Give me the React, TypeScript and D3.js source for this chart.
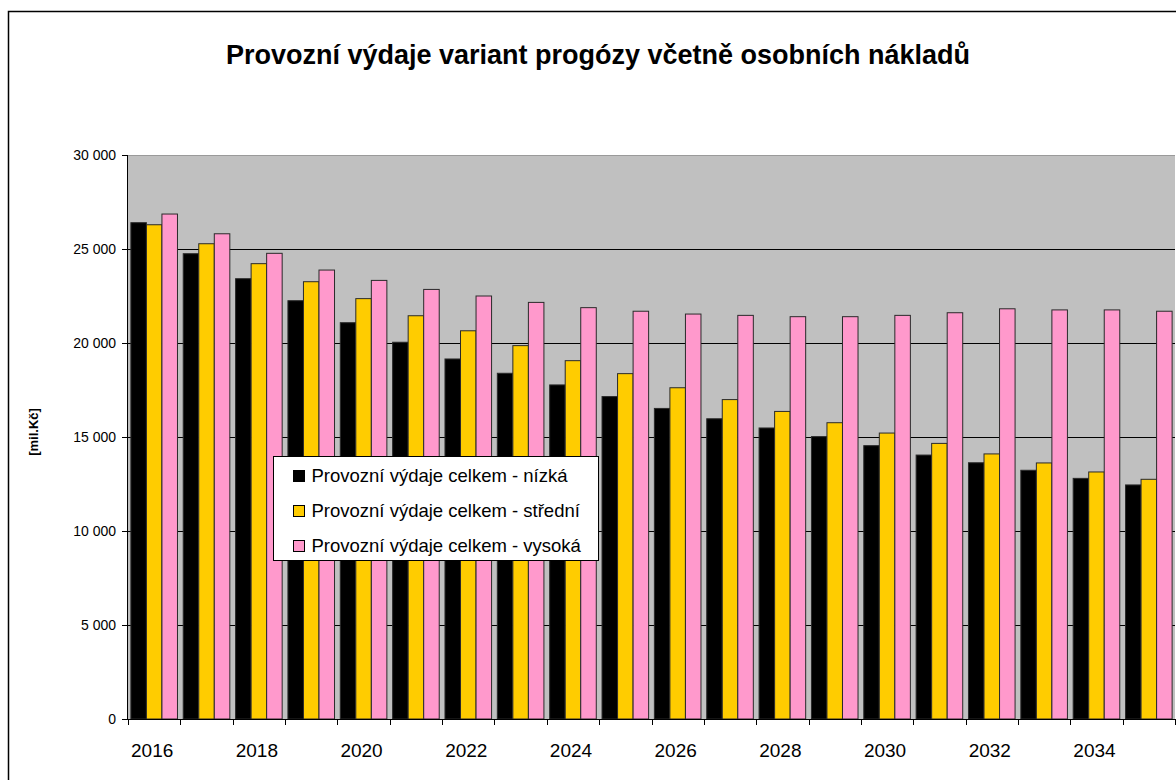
import React from 'react';
import * as d3 from 'd3';

const years = d3.range(2016, 2036).map(String);
const seriesNames = [
  'Provozní výdaje celkem - nízká',
  'Provozní výdaje celkem - střední',
  'Provozní výdaje celkem - vysoká'
];
const seriesColors = ['#000000', '#FFCC00', '#FF99CC'];

const nizka = [26400, 24750, 23420, 22250, 21080, 20040, 19150, 18390, 17770, 17150,
  16520, 15970, 15480, 15020, 14540, 14040, 13630, 13230, 12800, 12450];
const stredni = [26290, 25280, 24220, 23260, 22360, 21450, 20650, 19860, 19060, 18370,
  17620, 16990, 16360, 15760, 15210, 14660, 14100, 13620, 13140, 12750];
const vysoka = [26860, 25810, 24770, 23880, 23330, 22850, 22500, 22160, 21880, 21690,
  21540, 21470, 21400, 21400, 21470, 21610, 21820, 21760, 21760, 21690];

const yTicks = [0, 5000, 10000, 15000, 20000, 25000, 30000];
const xLabels = ['2016', '2018', '2020', '2022', '2024', '2026', '2028', '2030', '2032', '2034'];

const FONT = 'Arial, "Liberation Sans", sans-serif';

const App = () => {
  const width = 1176;
  const height = 780;
  const margin = { left: 128, right: 1, top: 155, bottom: 61 };
  const plotRight = width - margin.right;
  const plotBottom = height - margin.bottom;

  const data = [nizka, stredni, vysoka];

  const x0 = d3.scaleBand<string>()
    .domain(years)
    .range([margin.left, plotRight])
    .paddingInner(0.11)
    .paddingOuter(0.055);
  const x1 = d3.scaleBand<number>()
    .domain([0, 1, 2])
    .range([0, x0.bandwidth()]);
  const y = d3.scaleLinear().domain([0, 30000]).range([plotBottom, margin.top]);

  const step = x0.step();
  const fmt = (v: number) => d3.format(',')(v).replace(/,/g, ' ');

  return (
    <svg width={width} height={height} style={{ position: 'absolute', left: 0, top: 0, background: '#fff' }}>
      {/* outer frame */}
      <rect x={8.5} y={11.5} width={1200} height={820} fill='none' stroke='#000' strokeWidth={1.5} />

      <text x={598} y={64} textAnchor='middle' fontFamily={FONT} fontWeight='bold' fontSize={27}>
        Provozní výdaje variant progózy včetně osobních nákladů
      </text>

      {/* plot area */}
      <rect x={margin.left} y={margin.top} width={plotRight - margin.left} height={plotBottom - margin.top} fill='#C0C0C0' />
      <line x1={margin.left} x2={plotRight} y1={margin.top + 0.5} y2={margin.top + 0.5} stroke='#9a9a9a' />
      {yTicks.filter(t => t > 0 && t < 30000).map(t => (
        <line key={`g-${t}`} x1={margin.left} x2={plotRight} y1={Math.round(y(t)) + 0.5} y2={Math.round(y(t)) + 0.5} stroke='#000' />
      ))}

      {/* bars */}
      {years.map((yr, i) => (
        <g key={`grp-${yr}`} transform={`translate(${x0(yr)}, 0)`}>
          {data.map((s, j) => (
            <rect
              key={`b-${yr}-${j}`}
              x={x1(j)}
              y={y(s[i])}
              width={x1.bandwidth()}
              height={plotBottom - y(s[i])}
              fill={seriesColors[j]}
              stroke='#2a2a2a'
              strokeWidth={1}
            />
          ))}
        </g>
      ))}

      {/* axes */}
      <line x1={margin.left - 0.5} x2={margin.left - 0.5} y1={margin.top} y2={plotBottom} stroke='#000' />
      <line x1={margin.left} x2={plotRight} y1={plotBottom + 0.5} y2={plotBottom + 0.5} stroke='#000' />
      {yTicks.map(t => (
        <g key={`yt-${t}`}>
          <line x1={margin.left - 6} x2={margin.left} y1={Math.round(y(t)) + 0.5} y2={Math.round(y(t)) + 0.5} stroke='#000' />
          <text x={margin.left - 12} y={y(t) + 5} textAnchor='end' fontFamily={FONT} fontSize={14}>{fmt(t)}</text>
        </g>
      ))}
      {d3.range(years.length + 1).map(i => (
        <line key={`xt-${i}`} x1={Math.round(margin.left + i * step) + 0.5} x2={Math.round(margin.left + i * step) + 0.5}
          y1={plotBottom} y2={plotBottom + 6} stroke='#000' />
      ))}
      {xLabels.map(l => (
        <text key={`xl-${l}`} x={(x0(l) as number) + x0.bandwidth() / 2 - 2} y={757} textAnchor='middle' fontFamily={FONT} fontSize={19}>{l}</text>
      ))}

      <text transform={`translate(38, 432) rotate(-90)`} textAnchor='middle'
        fontFamily={FONT} fontWeight='bold' fontSize={13}>[mil.Kč]</text>

      {/* legend */}
      <g transform='translate(273.5, 456.5)'>
        <rect width={325} height={104} fill='#fff' stroke='#000' />
        {seriesNames.map((n, j) => (
          <g key={`lg-${j}`} transform={`translate(0, ${19 + j * 35})`}>
            <rect x={20} y={-5} width={11} height={11} fill={seriesColors[j]} stroke='#000' />
            <text x={38} y={6.5} fontFamily={FONT} fontSize={18.5}>{n}</text>
          </g>
        ))}
      </g>
    </svg>
  );
};

export default App;
